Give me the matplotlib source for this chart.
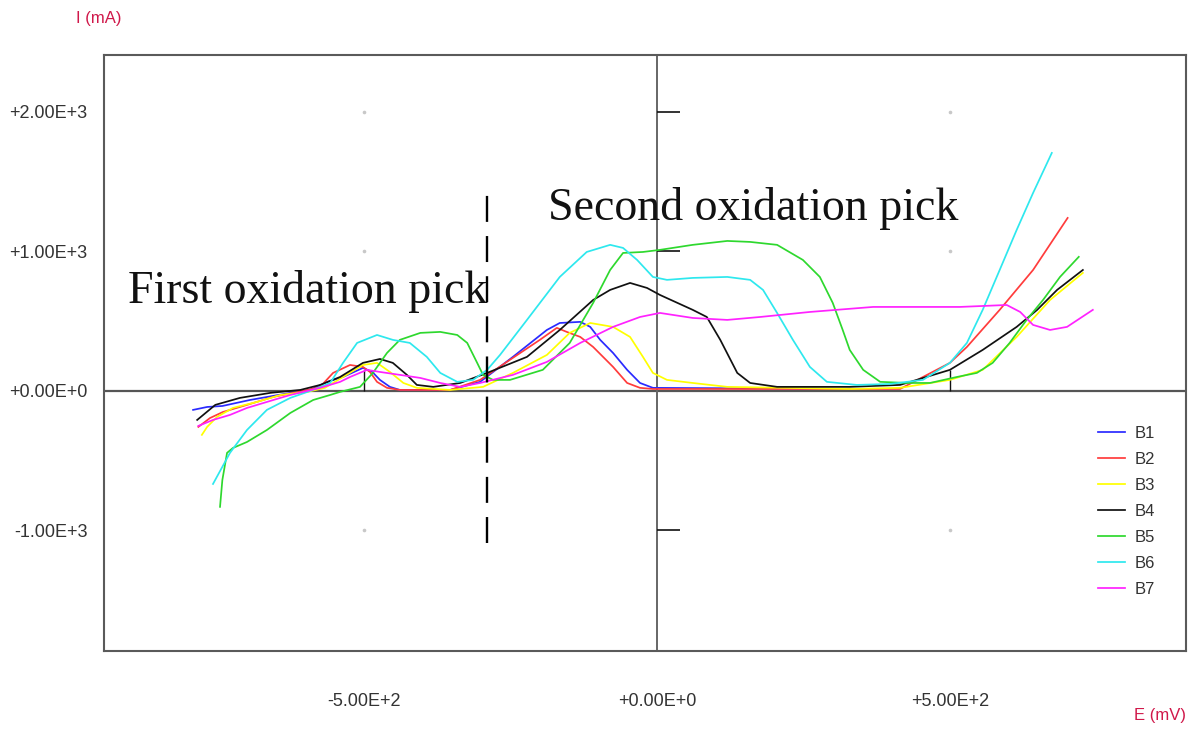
"""Cyclic voltammetry curves B1-B7 with oxidation pick annotations."""

import matplotlib

matplotlib.use("Agg")

import matplotlib.pyplot as plt

plt.rcParams["font.family"] = ["Liberation Sans", "DejaVu Sans"]

# E (mV) / I (mA)
b1_e = [-792, -768, -742, -695, -626, -592, -563, -536, -502, -486, -473, -456, -439, -353,
        -302, -246, -188, -166, -131, -114, -97, -75, -51, -29, -7, 329]
b1_i = [-136, -115, -108, -65, -14, 7, 65, 100, 165, 136, 79, 29, 7, 7,
        65, 244, 437, 487, 495, 459, 366, 272, 151, 57, 22, 14]

b2_e = [-783, -763, -741, -700, -655, -597, -575, -553, -524, -502, -490, -478, -461, -439,
        -353, -302, -246, -200, -171, -154, -131, -109, -75, -51, -29, -7, 415, 500, 529,
        585, 642, 701]
b2_i = [-258, -194, -151, -100, -43, 7, 29, 129, 186, 172, 136, 65, 22, 7,
        7, 79, 237, 366, 452, 423, 387, 315, 172, 57, 22, 14, 14, 201, 315,
        581, 867, 1240]

b3_e = [-777, -768, -751, -724, -683, -643, -597, -567, -536, -502, -478, -456, -433, -410,
        -353, -297, -246, -188, -149, -114, -75, -46, -24, -7, 17, 61, 120, 329, 415, 500,
        556, 614, 671, 727]
b3_i = [-315, -258, -186, -122, -79, -29, -7, 22, 100, 186, 201, 136, 57, 22,
        7, 29, 129, 258, 416, 487, 459, 387, 244, 129, 79, 57, 29, 14, 22, 79,
        151, 387, 652, 846]

b4_e = [-785, -754, -712, -660, -609, -575, -541, -502, -473, -451, -427, -410, -382, -336,
        -290, -222, -166, -109, -80, -46, -17, 5, 61, 85, 108, 137, 159, 205, 329, 415,
        500, 556, 614, 649, 683, 727]
b4_i = [-208, -100, -50, -14, 7, 43, 100, 201, 229, 201, 115, 43, 29, 57,
        129, 244, 437, 652, 724, 774, 738, 688, 581, 530, 366, 129, 57, 29, 29, 43,
        151, 294, 459, 581, 724, 867]

b5_e = [-746, -742, -734, -724, -700, -666, -626, -587, -558, -541, -507, -485, -461, -439,
        -404, -370, -341, -324, -307, -297, -280, -251, -195, -149, -109, -80, -58, -24,
        5, 61, 120, 159, 205, 249, 278, 300, 317, 329, 352, 381, 427, 466, 512, 546, 573,
        602, 631, 659, 688, 720]
b5_i = [-831, -638, -444, -409, -366, -280, -158, -65, -29, -7, 29, 129, 272, 366,
        416, 423, 401, 344, 201, 115, 79, 79, 151, 344, 631, 867, 989, 996,
        1011, 1047, 1075, 1068, 1047, 939, 817, 631, 437, 294, 151, 65, 57, 57, 100, 129, 201,
        344, 509, 652, 817, 961]

b6_e = [-758, -729, -700, -666, -626, -592, -558, -536, -512, -478, -451, -422, -393, -370,
        -341, -314, -290, -268, -222, -166, -120, -80, -58, -34, -7, 17, 61, 120, 159, 181,
        205, 232, 261, 290, 341, 398, 454, 500, 529, 556, 585, 614, 642, 674]
b6_i = [-667, -444, -280, -136, -50, 0, 57, 201, 344, 401, 366, 344, 244, 129,
        65, 79, 151, 258, 509, 817, 996, 1047, 1025, 939, 817, 796, 810, 817, 796, 724,
        559, 366, 172, 65, 43, 50, 79, 201, 344, 581, 867, 1154, 1419, 1706]

b7_e = [-783, -758, -729, -700, -666, -626, -575, -541, -524, -495, -473, -439, -404, -370,
        -336, -302, -246, -188, -131, -75, -29, 5, 61, 120, 176, 261, 369, 517, 597, 620,
        642, 671, 700, 744]
b7_i = [-251, -208, -172, -122, -79, -29, 22, 65, 100, 151, 136, 115, 93, 57,
        29, 57, 115, 208, 344, 459, 530, 559, 523, 509, 530, 566, 602, 602, 616, 566,
        473, 437, 459, 581]

series = [
    ("B1", b1_e, b1_i, "#2a2aff"),
    ("B2", b2_e, b2_i, "#ff3c3c"),
    ("B3", b3_e, b3_i, "#ffff00"),
    ("B4", b4_e, b4_i, "#111111"),
    ("B5", b5_e, b5_i, "#2ed82e"),
    ("B6", b6_e, b6_i, "#2ee8ee"),
    ("B7", b7_e, b7_i, "#ff22ff"),
]

x_ticks = [-500, 0, 500]
x_tick_labels = ["-5.00E+2", "+0.00E+0", "+5.00E+2"]
y_ticks = [-1000, 0, 1000, 2000]
y_tick_labels = ["-1.00E+3", "+0.00E+0", "+1.00E+3", "+2.00E+3"]

split_e = -290  # dashed separator between the two picks
split_span = (-1090, 1498)

fig = plt.figure(figsize=(12, 7.32), dpi=100)
ax = fig.add_axes([0.0867, 0.1107, 0.9016, 0.8142])
ax.set_xlim(-944, 903)
ax.set_ylim(-1864, 2408)

for spine in ax.spines.values():
    spine.set_color("#5a5a5a")
    spine.set_linewidth(1.5)

# axes crossing at the origin, with small tick marks on them
ax.axhline(0, color="#555555", lw=1.6, zorder=1)
ax.axvline(0, color="#666666", lw=1.4, zorder=1)
ax.hlines([t for t in y_ticks if t != 0], 0, 40, color="#111111", lw=1.2, zorder=1)
ax.vlines([t for t in x_ticks if t != 0], 0, 150, color="#111111", lw=1.0, zorder=1)
for xt in [-500, 500]:
    for yt in [-1000, 1000, 2000]:
        ax.plot(xt, yt, "o", ms=1.6, color="#c8c8c8", zorder=1)

for name, e, i, color in series:
    ax.plot(e, i, color=color, lw=1.25, label=name, zorder=2)

ax.vlines(split_e, *split_span, color="black", lw=1.7, linestyles=(0, (11, 6)), zorder=3)

serif = ["Liberation Serif", "DejaVu Serif"]
ax.text(-903, 631, "First oxidation pick", fontsize=33, family=serif, color="#111111")
ax.text(-186, 1226, "Second oxidation pick", fontsize=33, family=serif, color="#111111")

ax.set_xticks(x_ticks, x_tick_labels)
ax.set_yticks(y_ticks, y_tick_labels)
ax.tick_params(axis="both", length=0, labelsize=13, colors="#333333")
ax.tick_params(axis="x", pad=30)
ax.tick_params(axis="y", pad=12)

fig.text(0.063, 0.975, "I (mA)", fontsize=12, color="#d0184a", va="center")
fig.text(0.945, 0.023, "E (mV)", fontsize=12, color="#d0184a", va="center")

leg = ax.legend(loc="upper left", bbox_to_anchor=(0.919, 0.378), frameon=False,
                fontsize=12, handlelength=1.6, handletextpad=0.55, labelspacing=0.66,
                borderaxespad=0, borderpad=0)
for text in leg.get_texts():
    text.set_color("#333333")

fig.savefig("out.png", dpi=100)
plt.close(fig)
